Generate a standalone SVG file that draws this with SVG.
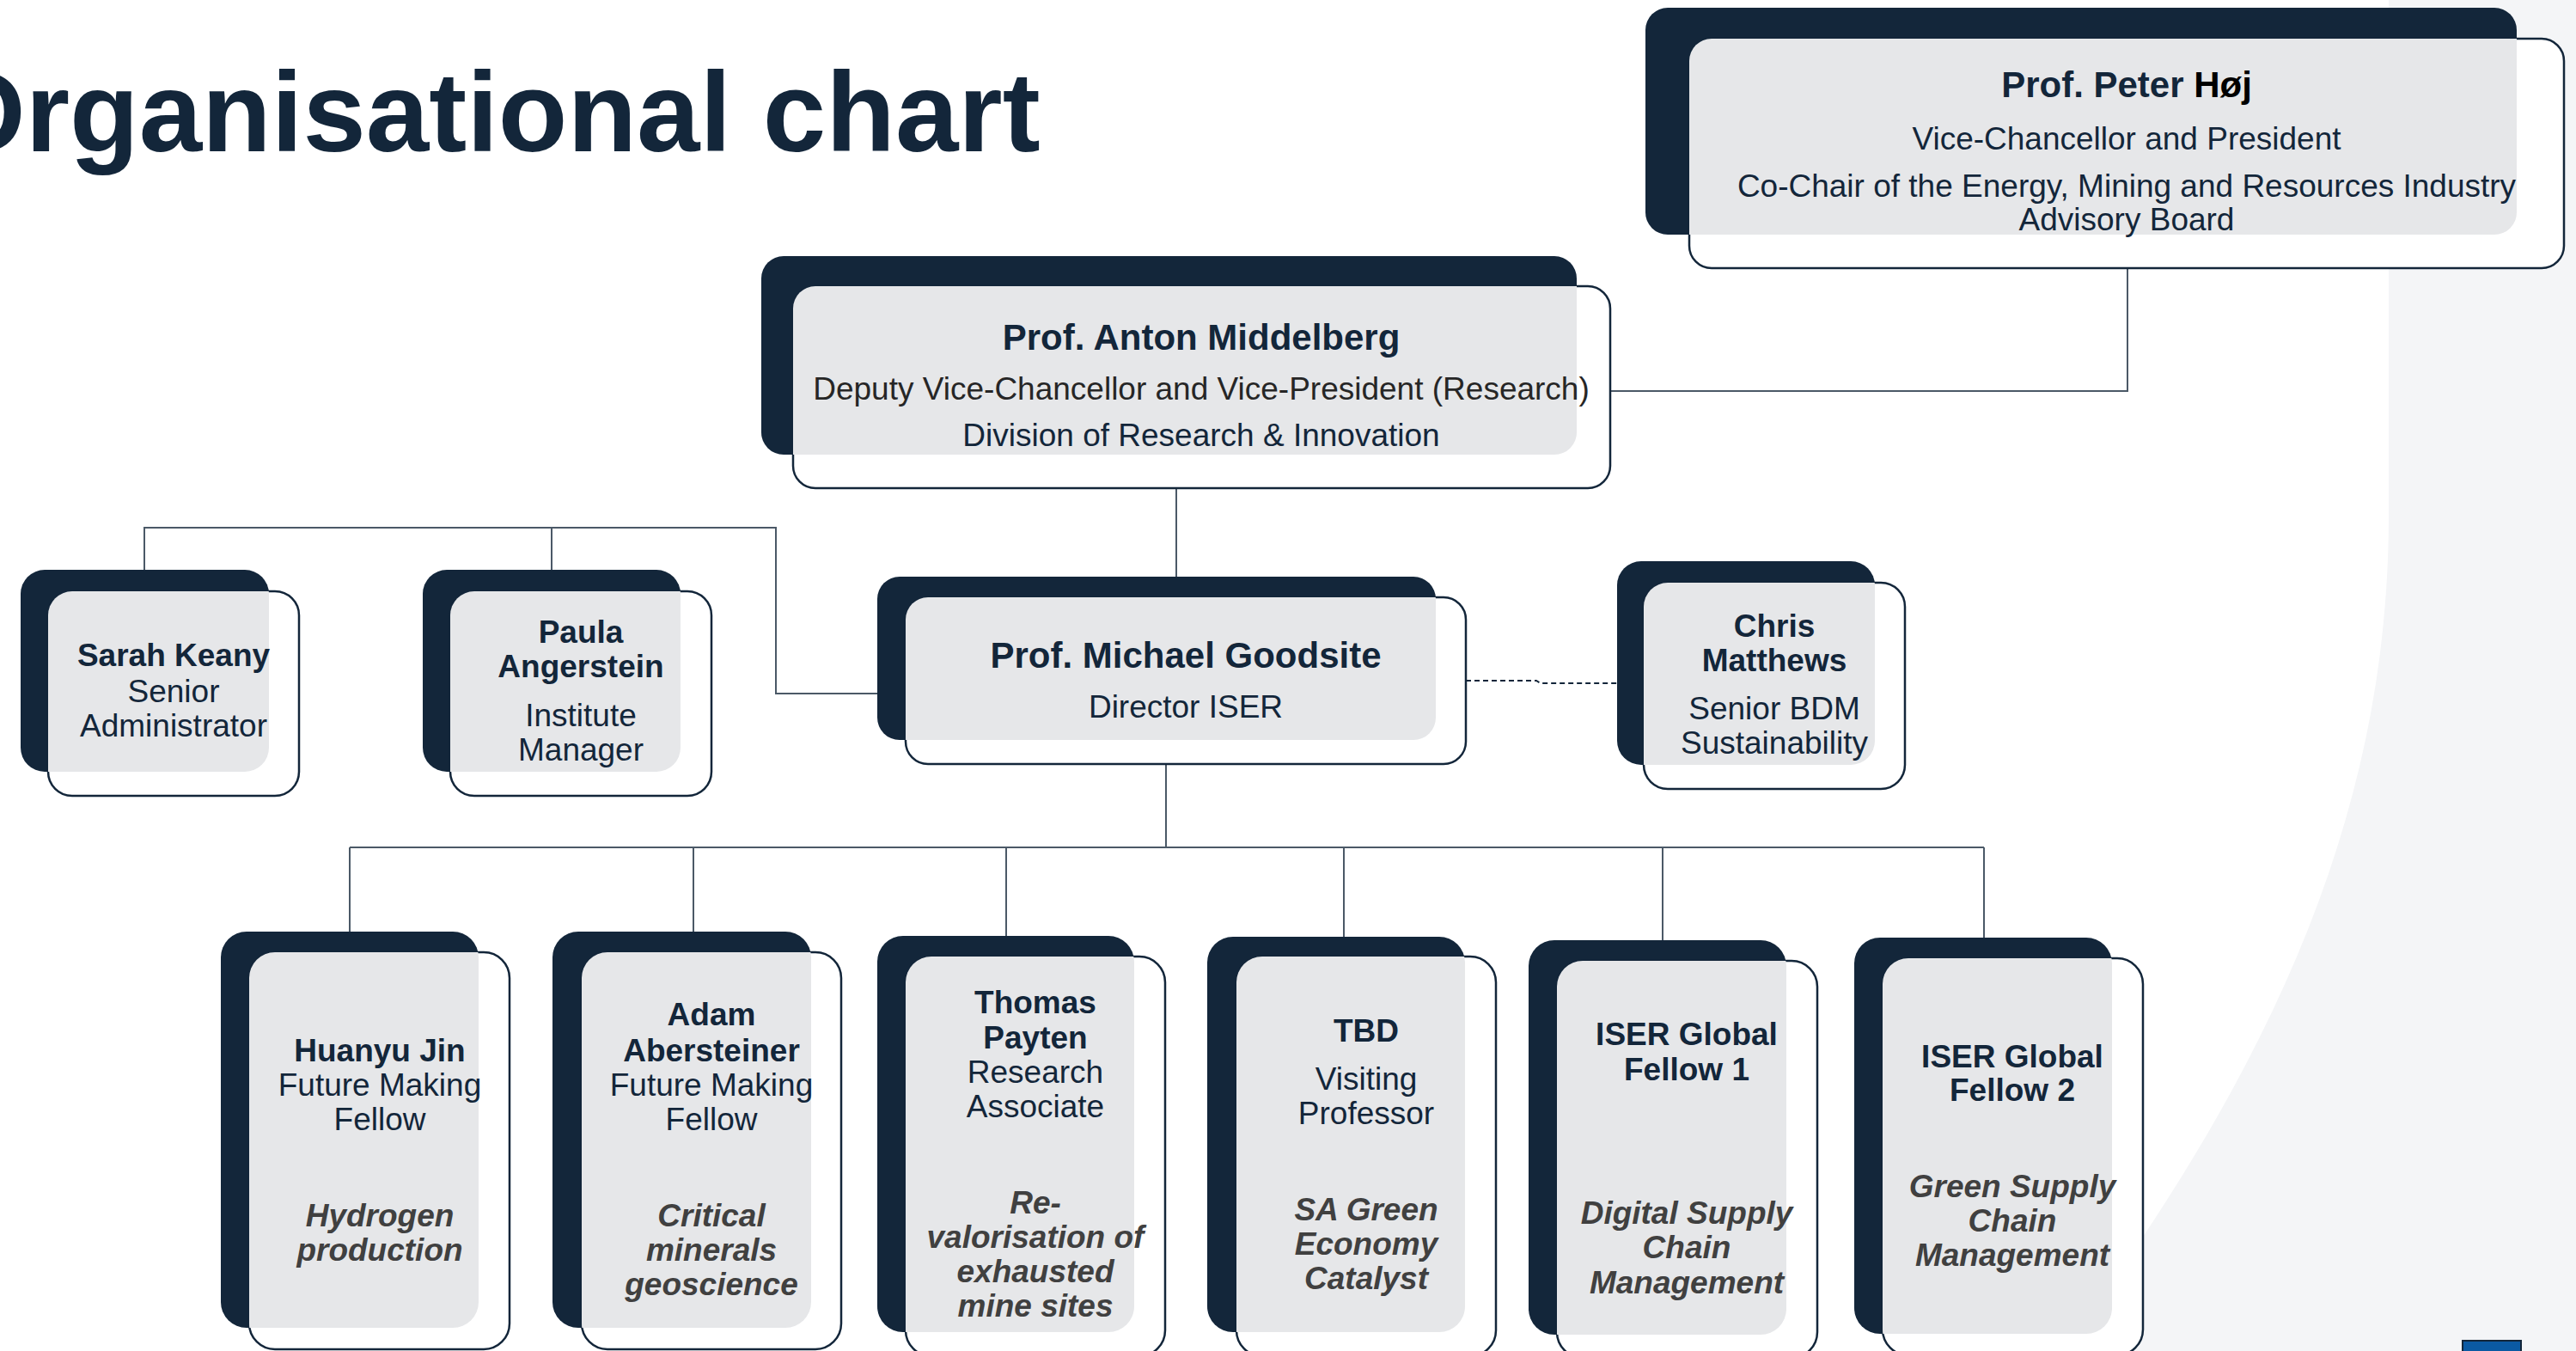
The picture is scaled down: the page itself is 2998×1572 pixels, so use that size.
<svg xmlns="http://www.w3.org/2000/svg" width="2998" height="1572" viewBox="0 0 2998 1572">
<style>
text{font-family:"Liberation Sans",Arial,sans-serif;fill:#13263a;text-anchor:middle}
.t{font-size:132px;font-weight:bold;text-anchor:start}
.nb{font-size:42px;font-weight:bold}
.nr{font-size:37px}
.b{font-size:37px;font-weight:bold}
.r{font-size:37px}
.i{font-size:37px;font-weight:bold;font-style:italic;fill:#404040}
.dk{fill:#13263a}
.ol{fill:#fff;stroke:#13263a;stroke-width:2.5}
.gy{fill:#e6e7e9}
.ln{fill:none;stroke:#4b5967;stroke-width:2}
.ds{fill:none;stroke:#13263a;stroke-width:2;stroke-dasharray:6 4}
</style>
<defs>
<clipPath id="c1"><rect x="1915" y="9" width="1014" height="264" rx="26"/></clipPath>
<clipPath id="c2"><rect x="886" y="298" width="949" height="231" rx="26"/></clipPath>
<clipPath id="c3"><rect x="1021" y="671" width="650" height="190" rx="26"/></clipPath>
<clipPath id="c4"><rect x="1882" y="653" width="300" height="237" rx="28"/></clipPath>
<clipPath id="c5"><rect x="24" y="663" width="289" height="235" rx="28"/></clipPath>
<clipPath id="c6"><rect x="492" y="663" width="300" height="235" rx="28"/></clipPath>
<clipPath id="c7"><rect x="257" y="1084" width="300" height="461" rx="30"/></clipPath>
<clipPath id="c8"><rect x="643" y="1084" width="301" height="461" rx="30"/></clipPath>
<clipPath id="c9"><rect x="1021" y="1089" width="299" height="461" rx="30"/></clipPath>
<clipPath id="c10"><rect x="1405" y="1090" width="300" height="460" rx="30"/></clipPath>
<clipPath id="c11"><rect x="1779" y="1094" width="300" height="459" rx="30"/></clipPath>
<clipPath id="c12"><rect x="2158" y="1091" width="300" height="461" rx="30"/></clipPath>
</defs>
<rect width="2998" height="1572" fill="#fff"/>
<path d="M2780,0 V600 C2780,950 2640,1250 2400,1572 H2998 V0 Z" fill="#f4f5f7"/>
<rect x="2866" y="1560" width="68" height="14" fill="#0b5aa3" stroke="#13263a" stroke-width="2"/>
<text class="t" x="-73" y="176">Organisational chart</text>

<g id="connectors">
<path class="ln" d="M1874,455 H2476 V312"/>
<path class="ln" d="M1369,568 V671"/>
<path class="ln" d="M168,663 V614 H903 V807 H1021"/>
<path class="ln" d="M642,614 V663"/>
<path class="ds" d="M1706,792 H1788 L1793,795 H1882"/>
<path class="ln" d="M1357,889 V986"/>
<path class="ln" d="M407,986 H2309"/>
<path class="ln" d="M407,986 V1084 M807,986 V1084 M1171,986 V1089 M1564,986 V1090 M1935,986 V1094 M2309,986 V1091"/>
</g>

<g id="node-hoj">
<rect class="dk" x="1915" y="9" width="1014" height="264" rx="26"/>
<rect class="ol" x="1966" y="45" width="1018" height="267" rx="26"/>
<rect class="gy" x="1966" y="45" width="1018" height="267" rx="26" clip-path="url(#c1)"/>
<text class="nb" x="2475" y="113">Prof. Peter <tspan fill="#000">Høj</tspan></text>
<text class="nr" x="2475" y="174">Vice-Chancellor and President</text>
<text class="nr" x="2475" y="229">Co-Chair of the Energy, Mining and Resources Industry</text>
<text class="nr" x="2475" y="268">Advisory Board</text>
</g>

<g id="node-middelberg">
<rect class="dk" x="886" y="298" width="949" height="231" rx="26"/>
<rect class="ol" x="923" y="333" width="951" height="235" rx="26"/>
<rect class="gy" x="923" y="333" width="951" height="235" rx="26" clip-path="url(#c2)"/>
<text class="nb" x="1398" y="407">Prof. Anton Middelberg</text>
<text class="nr" x="1398" y="465" style="fill:#262626">Deputy Vice-Chancellor and Vice-President (Research)</text>
<text class="nr" x="1398" y="519">Division of Research &amp; Innovation</text>
</g>

<g id="node-goodsite">
<rect class="dk" x="1021" y="671" width="650" height="190" rx="26"/>
<rect class="ol" x="1054" y="695" width="652" height="194" rx="26"/>
<rect class="gy" x="1054" y="695" width="652" height="194" rx="26" clip-path="url(#c3)"/>
<text class="nb" x="1380" y="777">Prof. Michael Goodsite</text>
<text class="nr" x="1380" y="835">Director ISER</text>
</g>

<g id="node-matthews">
<rect class="dk" x="1882" y="653" width="300" height="237" rx="28"/>
<rect class="ol" x="1913" y="678" width="304" height="240" rx="28"/>
<rect class="gy" x="1913" y="678" width="304" height="240" rx="28" clip-path="url(#c4)"/>
<text class="b" x="2065" y="741">Chris</text>
<text class="b" x="2065" y="781">Matthews</text>
<text class="r" x="2065" y="837">Senior BDM</text>
<text class="r" x="2065" y="877">Sustainability</text>
</g>

<g id="node-keany">
<rect class="dk" x="24" y="663" width="289" height="235" rx="28"/>
<rect class="ol" x="56" y="688" width="292" height="238" rx="28"/>
<rect class="gy" x="56" y="688" width="292" height="238" rx="28" clip-path="url(#c5)"/>
<text class="b" x="202" y="775">Sarah Keany</text>
<text class="r" x="202" y="817">Senior</text>
<text class="r" x="202" y="857">Administrator</text>
</g>

<g id="node-angerstein">
<rect class="dk" x="492" y="663" width="300" height="235" rx="28"/>
<rect class="ol" x="524" y="688" width="304" height="238" rx="28"/>
<rect class="gy" x="524" y="688" width="304" height="238" rx="28" clip-path="url(#c6)"/>
<text class="b" x="676" y="748">Paula</text>
<text class="b" x="676" y="788">Angerstein</text>
<text class="r" x="676" y="845">Institute</text>
<text class="r" x="676" y="885">Manager</text>
</g>

<g id="node-jin">
<rect class="dk" x="257" y="1084" width="300" height="461" rx="30"/>
<rect class="ol" x="290" y="1108" width="303" height="462" rx="30"/>
<rect class="gy" x="290" y="1108" width="303" height="462" rx="30" clip-path="url(#c7)"/>
<text class="b" x="442" y="1235">Huanyu Jin</text>
<text class="r" x="442" y="1275">Future Making</text>
<text class="r" x="442" y="1315">Fellow</text>
<text class="i" x="442" y="1427">Hydrogen</text>
<text class="i" x="442" y="1467">production</text>
</g>

<g id="node-abersteiner">
<rect class="dk" x="643" y="1084" width="301" height="461" rx="30"/>
<rect class="ol" x="677" y="1108" width="302" height="462" rx="30"/>
<rect class="gy" x="677" y="1108" width="302" height="462" rx="30" clip-path="url(#c8)"/>
<text class="b" x="828" y="1193">Adam</text>
<text class="b" x="828" y="1235">Abersteiner</text>
<text class="r" x="828" y="1275">Future Making</text>
<text class="r" x="828" y="1315">Fellow</text>
<text class="i" x="828" y="1427">Critical</text>
<text class="i" x="828" y="1467">minerals</text>
<text class="i" x="828" y="1507">geoscience</text>
</g>

<g id="node-payten">
<rect class="dk" x="1021" y="1089" width="299" height="461" rx="30"/>
<rect class="ol" x="1054" y="1113" width="302" height="465" rx="30"/>
<rect class="gy" x="1054" y="1113" width="302" height="465" rx="30" clip-path="url(#c9)"/>
<text class="b" x="1205" y="1179">Thomas</text>
<text class="b" x="1205" y="1220">Payten</text>
<text class="r" x="1205" y="1260">Research</text>
<text class="r" x="1205" y="1300">Associate</text>
<text class="i" x="1205" y="1412">Re-</text>
<text class="i" x="1205" y="1452">valorisation of</text>
<text class="i" x="1205" y="1492">exhausted</text>
<text class="i" x="1205" y="1532">mine sites</text>
</g>

<g id="node-tbd">
<rect class="dk" x="1405" y="1090" width="300" height="460" rx="30"/>
<rect class="ol" x="1439" y="1113" width="302" height="465" rx="30"/>
<rect class="gy" x="1439" y="1113" width="302" height="465" rx="30" clip-path="url(#c10)"/>
<text class="b" x="1590" y="1212">TBD</text>
<text class="r" x="1590" y="1268">Visiting</text>
<text class="r" x="1590" y="1308">Professor</text>
<text class="i" x="1590" y="1420">SA Green</text>
<text class="i" x="1590" y="1460">Economy</text>
<text class="i" x="1590" y="1500">Catalyst</text>
</g>

<g id="node-fellow1">
<rect class="dk" x="1779" y="1094" width="300" height="459" rx="30"/>
<rect class="ol" x="1812" y="1118" width="303" height="462" rx="30"/>
<rect class="gy" x="1812" y="1118" width="303" height="462" rx="30" clip-path="url(#c11)"/>
<text class="b" x="1963" y="1216">ISER Global</text>
<text class="b" x="1963" y="1257">Fellow 1</text>
<text class="i" x="1963" y="1424">Digital Supply</text>
<text class="i" x="1963" y="1464">Chain</text>
<text class="i" x="1963" y="1505">Management</text>
</g>

<g id="node-fellow2">
<rect class="dk" x="2158" y="1091" width="300" height="461" rx="30"/>
<rect class="ol" x="2191" y="1115" width="303" height="462" rx="30"/>
<rect class="gy" x="2191" y="1115" width="303" height="462" rx="30" clip-path="url(#c12)"/>
<text class="b" x="2342" y="1242">ISER Global</text>
<text class="b" x="2342" y="1281">Fellow 2</text>
<text class="i" x="2342" y="1393">Green Supply</text>
<text class="i" x="2342" y="1433">Chain</text>
<text class="i" x="2342" y="1473">Management</text>
</g>
</svg>
